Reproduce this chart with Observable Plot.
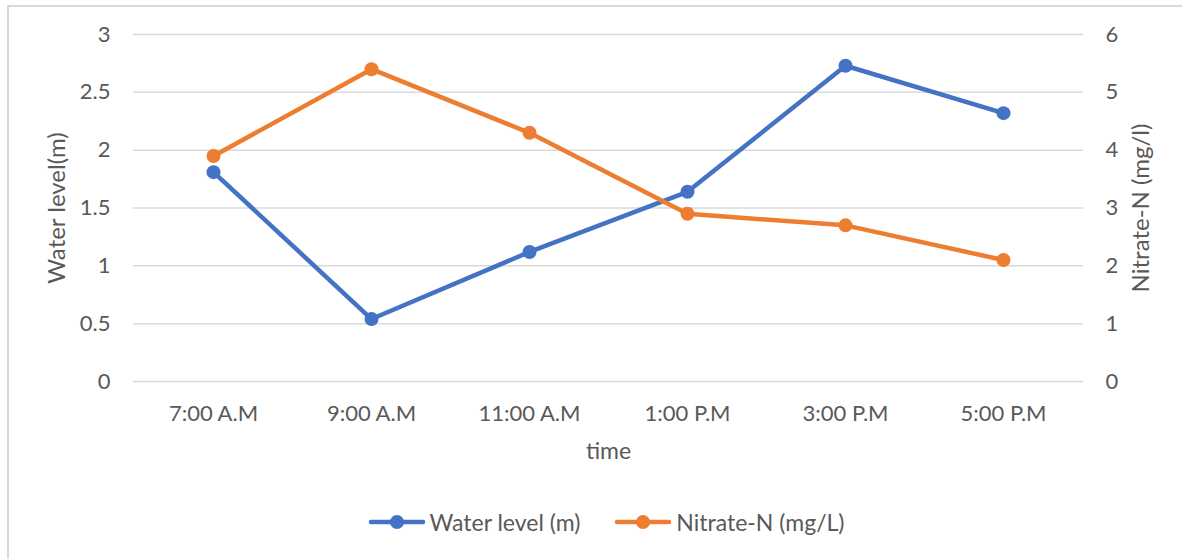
<!DOCTYPE html>
<html>
<head>
<meta charset="utf-8">
<script src="https://cdn.jsdelivr.net/npm/d3@7"></script>
<script src="https://cdn.jsdelivr.net/npm/@observablehq/plot@0.6"></script>
<style>
  html, body { margin: 0; padding: 0; background: #fff; }
  #chart {
    position: relative;
    width: 1182px;
    height: 559px;
    overflow: hidden;
    font-family: Lato, "Open Sans", sans-serif;
    color: #595959;
  }
  #frame {
    position: absolute;
    left: 7px; top: 5px;
    width: 1200px; height: 600px;
    border-left: 2px solid #d9d9d9;
    border-top: 2px solid #d9d9d9;
    box-sizing: border-box;
    pointer-events: none;
  }
  #legend {
    display: flex;
    justify-content: center;
    align-items: center;
    gap: 34px;
    height: 69px;
    font-size: 23px;
    padding-left: 30px;
  }
  .item { display: flex; align-items: center; gap: 4px; margin-top: -6px; }
</style>
</head>
<body>
<div id="chart">
  <div id="frame"></div>
  <div id="plot"></div>
  <div id="legend"></div>
</div>
<script>
// Sampling times along the day
const times = ["7:00 A.M", "9:00 A.M", "11:00 A.M", "1:00 P.M", "3:00 P.M", "5:00 P.M"];
// Water level in metres (left axis)
const waterLevel = [1.81, 0.54, 1.12, 1.64, 2.73, 2.32];
// Nitrate-N in mg/L (right axis)
const nitrate = [3.9, 5.4, 4.3, 2.9, 2.7, 2.1];
// Axis ticks
const leftTicks = [0, 0.5, 1, 1.5, 2, 2.5, 3];
const rightTicks = [0, 1, 2, 3, 4, 5, 6];

const blue = "#4472C4";
const orange = "#ED7D31";
const textColor = "#595959";

// Right axis runs 0–6 over the same height as the left 0–3
const ratio = 6 / 3;

const rows = times.map((t, i) => ({time: t, water: waterLevel[i], nitrate: nitrate[i]}));

const chart = Plot.plot({
  width: 1182,
  height: 490,
  marginLeft: 133,
  marginRight: 99,
  marginTop: 34,
  marginBottom: 109,
  style: {fontFamily: "Lato, 'Open Sans', sans-serif", fontSize: "22px", color: textColor, background: "transparent"},
  x: {type: "point", domain: times, padding: 0.5, axis: null},
  y: {domain: [0, 3], axis: null},
  marks: [
    Plot.gridY(leftTicks, {stroke: "#d9d9d9", strokeOpacity: 1, strokeWidth: 1.5}),
    Plot.axisY(leftTicks, {anchor: "left", tickSize: 0, tickPadding: 23, label: null, tickFormat: d => String(d), fill: textColor}),
    Plot.axisY(rightTicks.map(t => t / ratio), {anchor: "right", tickSize: 0, tickPadding: 22, label: null, tickFormat: d => String(d * ratio), fill: textColor}),
    Plot.axisX(times, {anchor: "bottom", tickSize: 0, tickPadding: 24, label: null, fill: textColor}),
    Plot.text(["time"], {frameAnchor: "bottom", lineAnchor: "middle", dy: 70, fill: textColor, fontSize: 23}),
    Plot.text(["Water level(m)"], {frameAnchor: "left", textAnchor: "middle", lineAnchor: "middle", dx: -76, rotate: -90, fill: textColor, fontSize: 24}),
    Plot.text(["Nitrate-N (mg/l)"], {frameAnchor: "right", textAnchor: "middle", lineAnchor: "middle", dx: 58, rotate: -90, fill: textColor, fontSize: 24}),
    Plot.line(rows, {x: "time", y: "water", stroke: blue, strokeWidth: 4.5, strokeLinejoin: "round", strokeLinecap: "round"}),
    Plot.dot(rows, {x: "time", y: "water", r: 7, fill: blue}),
    Plot.line(rows, {x: "time", y: d => d.nitrate / ratio, stroke: orange, strokeWidth: 4.5, strokeLinejoin: "round", strokeLinecap: "round"}),
    Plot.dot(rows, {x: "time", y: d => d.nitrate / ratio, r: 7, fill: orange})
  ]
});
document.getElementById("plot").appendChild(chart);

// Legend: line-and-marker swatch followed by series name
const legendItems = [
  {label: "Water level (m)", color: blue},
  {label: "Nitrate-N (mg/L)", color: orange}
];
const legend = d3.select("#legend");
for (const it of legendItems) {
  const item = legend.append("div").attr("class", "item");
  const svg = item.append("svg").attr("width", 58).attr("height", 20);
  svg.append("line").attr("x1", 3).attr("x2", 55).attr("y1", 10).attr("y2", 10)
    .attr("stroke", it.color).attr("stroke-width", 4.5).attr("stroke-linecap", "round");
  svg.append("circle").attr("cx", 29).attr("cy", 10).attr("r", 7).attr("fill", it.color);
  item.append("span").text(it.label);
}
</script>
</body>
</html>
